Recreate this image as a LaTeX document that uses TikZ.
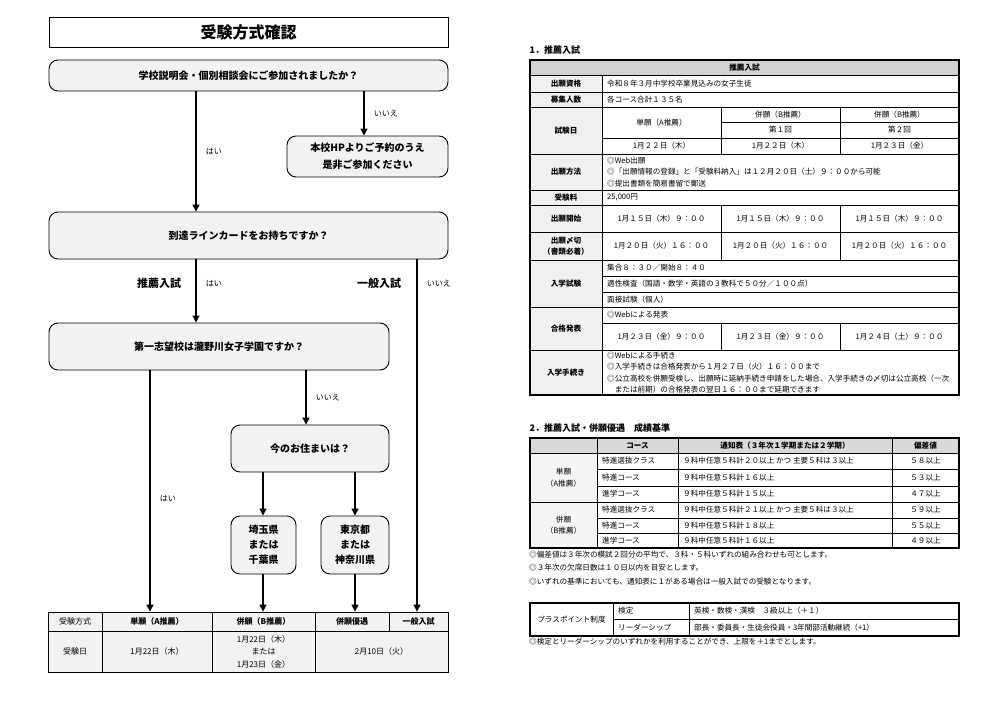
\documentclass[tikz,border=0pt]{standalone}
\usepackage{fontspec}
\setmainfont{Noto Sans CJK JP}
\usetikzlibrary{arrows.meta}

\tikzset{
  qbox/.style={draw, line width=0.9pt, rounded corners=9pt, fill=gray!10, inner sep=0pt,
    align=center, font=\bfseries\fontsize{10}{15}\selectfont},
  arr/.style={-{Triangle[length=7pt,width=7pt]}, line width=1.3pt},
  yesno/.style={font=\fontsize{8}{10}\selectfont},
  route/.style={font=\bfseries\fontsize{11}{13}\selectfont},
  cell/.style={draw, line width=0.8pt, fill=gray!10, inner sep=0pt, align=center,
    font=\fontsize{8}{12.5}\selectfont},
  tline/.style={line width=0.7pt},
  ttext/.style={font=\fontsize{7.6}{11.5}\selectfont, inner sep=0pt},
  thead/.style={font=\bfseries\fontsize{9}{11}\selectfont, anchor=west},
}
% table cell: [fill] x1 y1 x2 y2 text (centred / left)
\newcommand\tcell[6][white]{\filldraw[tline,fill=#1] (#2,#3) rectangle (#4,#5);
  \node[ttext,align=center] at ({(#2+#4)/2},{(#3+#5)/2}) {#6};}
\newcommand\lcell[6][white]{\filldraw[tline,fill=#1] (#2,#3) rectangle (#4,#5);
  \node[ttext,align=left,anchor=west] at ({#2+5},{(#3+#5)/2}) {#6};}

\begin{document}
\begin{tikzpicture}[x=1pt,y=-1pt]
    \useasboundingbox (0,0) rectangle (1000,706);

    % left page: flow chart
    \node[draw, line width=0.9pt, minimum width=399pt, minimum height=30pt,
      font=\bfseries\fontsize{16}{18}\selectfont] (title) at (248.5,32) {受験方式確認};

    \node[qbox, minimum width=399pt, minimum height=31pt] (q1) at (248.5,75.5)
      {学校説明会・個別相談会にご参加されましたか？};
    \node[qbox, minimum width=161pt, minimum height=41pt, font=\bfseries\fontsize{10}{17}\selectfont]
      (hp) at (367.5,156.5) {本校HPよりご予約のうえ\\是非ご参加ください};
    \node[qbox, minimum width=399pt, minimum height=47pt] (q2) at (248.5,235.5)
      {到達ラインカードをお持ちですか？};
    \node[qbox, minimum width=340pt, minimum height=47pt] (q3) at (219,346.5)
      {第一志望校は瀧野川女子学園ですか？};
    \node[qbox, minimum width=158pt, minimum height=47pt] (q4) at (310,448.5)
      {今のお住まいは？};
    \node[qbox, minimum width=65pt, minimum height=58pt] (saitama) at (263.5,545)
      {埼玉県\\または\\千葉県};
    \node[qbox, minimum width=68pt, minimum height=58pt] (tokyo) at (355,545)
      {東京都\\または\\神奈川県};

    % result table
    \node[cell, minimum width=54pt, minimum height=19pt] (hM) at (75,621.5) {受験方式};
    \node[cell, minimum width=110pt, minimum height=19pt, font=\bfseries\fontsize{8}{10}\selectfont]
      (hA) at (157,621.5) {単願（A推薦）};
    \node[cell, minimum width=103pt, minimum height=19pt, font=\bfseries\fontsize{8}{10}\selectfont]
      (hB) at (263.5,621.5) {併願（B推薦）};
    \node[cell, minimum width=74pt, minimum height=19pt, font=\bfseries\fontsize{8}{10}\selectfont]
      (hC) at (352,621.5) {併願優遇};
    \node[cell, minimum width=59pt, minimum height=19pt, font=\bfseries\fontsize{8}{10}\selectfont]
      (hD) at (418.5,621.5) {一般入試};
    \node[cell, minimum width=54pt, minimum height=41pt] (dM) at (75,651.5) {受験日};
    \node[cell, minimum width=110pt, minimum height=41pt] (dA) at (157,651.5) {1月22日（木）};
    \node[cell, minimum width=103pt, minimum height=41pt] (dB) at (263.5,651.5)
      {1月22日（木）\\または\\1月23日（金）};
    \node[cell, minimum width=133pt, minimum height=41pt] (dC) at (381.5,651.5) {2月10日（火）};

    % arrow columns
    \coordinate (xYes) at (196,0);
    \coordinate (xNo) at (364,0);
    \coordinate (xGen) at (417,0);
    \coordinate (xSingle) at (150,0);
    \coordinate (xLive) at (306,0);
    \coordinate (xSaitama) at (263,0);
    \coordinate (xTokyo) at (355,0);

    % flow arrows
    \draw[arr] (q1.south -| xYes) -- node[yesno, right=6pt] {はい} (q2.north -| xYes);
    \draw[arr] (q1.south -| xNo) -- node[yesno, right=6pt] {いいえ} (hp.north -| xNo);
    \draw[arr] (q2.south -| xYes) -- node[pos=0.38, yesno, right=6pt] {はい}
      node[pos=0.38, route, left=11pt] {推薦入試} (q3.north -| xYes);
    \draw[arr] (q2.south -| xGen) -- node[pos=0.068, yesno, right=6pt] {いいえ}
      node[pos=0.068, route, left=12pt] {一般入試} (hD.north -| xGen);
    \draw[arr] (q3.south -| xSingle) -- node[pos=0.53, yesno, right=6pt] {はい} (hA.north -| xSingle);
    \draw[arr] (q3.south -| xLive) -- node[yesno, right=6pt] {いいえ} (q4.north -| xLive);
    \draw[arr] (q4.south -| xSaitama) -- (saitama.north -| xSaitama);
    \draw[arr] (q4.south -| xTokyo) -- (tokyo.north -| xTokyo);
    \draw[arr] (saitama.south -| xSaitama) -- (hB.north -| xSaitama);
    \draw[arr] (tokyo.south -| xTokyo) -- (hC.north -| xTokyo);

    % right page: 1. recommendation exam
    \node[thead] (sec1) at (526,50) {1．推薦入試};
    \tcell[gray!35]{530}{60}{959}{75}{\bfseries 推薦入試}
    \tcell[gray!12]{530}{75}{602}{92}{\bfseries 出願資格}
    \lcell{602}{75}{959}{92}{令和８年３月中学校卒業見込みの女子生徒}
    \tcell[gray!12]{530}{92}{602}{107}{\bfseries 募集人数}
    \lcell{602}{92}{959}{107}{各コース合計１３５名}
    \tcell[gray!12]{530}{107}{602}{154}{\bfseries 試験日}
    \tcell{602}{107}{721}{138}{単願（A推薦）}
    \tcell{602}{138}{721}{154}{1月２２日（木）}
    \tcell{721}{107}{840}{122}{併願（B推薦）}
    \tcell{721}{122}{840}{138}{第１回}
    \tcell{721}{138}{840}{154}{1月２２日（木）}
    \tcell{840}{107}{959}{122}{併願（B推薦）}
    \tcell{840}{122}{959}{138}{第２回}
    \tcell{840}{138}{959}{154}{1月２３日（金）}
    \tcell[gray!12]{530}{154}{602}{190}{\bfseries 出願方法}
    \lcell{602}{154}{959}{190}{◎Web出願\\◎「出願情報の登録」と「受験料納入」は１２月２０日（土）９：００から可能\\◎提出書類を簡易書留で郵送}
    \tcell[gray!12]{530}{190}{602}{205}{\bfseries 受験料}
    \lcell{602}{190}{959}{205}{25,000円}
    \tcell[gray!12]{530}{205}{602}{232}{\bfseries 出願開始}
    \tcell{602}{205}{721}{232}{1月１５日（木）９：００}
    \tcell{721}{205}{840}{232}{1月１５日（木）９：００}
    \tcell{840}{205}{959}{232}{1月１５日（木）９：００}
    \tcell[gray!12]{530}{232}{602}{260}{\bfseries 出願〆切\\\bfseries （書類必着）}
    \tcell{602}{232}{721}{260}{1月２０日（火）１６：００}
    \tcell{721}{232}{840}{260}{1月２０日（火）１６：００}
    \tcell{840}{232}{959}{260}{1月２０日（火）１６：００}
    \tcell[gray!12]{530}{260}{602}{307}{\bfseries 入学試験}
    \lcell{602}{260}{959}{276}{集合８：３０／開始８：４０}
    \lcell{602}{276}{959}{292}{適性検査（国語・数学・英語の３教科で５０分／１００点）}
    \lcell{602}{292}{959}{307}{面接試験（個人）}
    \tcell[gray!12]{530}{307}{602}{350}{\bfseries 合格発表}
    \lcell{602}{307}{959}{323}{◎Webによる発表}
    \tcell{602}{323}{721}{350}{1月２３日（金）９：００}
    \tcell{721}{323}{840}{350}{1月２３日（金）９：００}
    \tcell{840}{323}{959}{350}{1月２４日（土）９：００}
    \tcell[gray!12]{530}{350}{602}{395}{\bfseries 入学手続き}
    \lcell{602}{350}{959}{395}{◎Webによる手続き\\◎入学手続きは合格発表から１月２７日（火）１６：００まで\\◎公立高校を併願受検し、出願時に延納手続き申請をした場合、入学手続きの〆切は公立高校（一次\\　または前期）の合格発表の翌日１６：００まで延期できます}
    \draw[line width=1.5pt] (530,60) rectangle (959,395);

    % 2. criteria
    \node[thead] (sec2) at (526,428) {2．推薦入試・併願優遇　成績基準};
    \tcell[gray!30]{530}{438}{597}{453}{}
    \tcell[gray!30]{597}{438}{678}{453}{\bfseries コース}
    \tcell[gray!30]{678}{438}{892}{453}{\bfseries 通知表（３年次１学期または２学期）}
    \tcell[gray!30]{892}{438}{959}{453}{\bfseries 偏差値}
    \tcell[gray!8]{530}{453}{597}{502}{単願\\（A推薦）}
    \tcell[gray!8]{530}{502}{597}{548}{併願\\（B推薦）}
    \lcell{597}{453}{678}{469}{特進選抜クラス}
    \lcell{678}{453}{892}{469}{９科中任意５科計２０以上 かつ 主要５科は３以上}
    \tcell{892}{453}{959}{469}{５８以上}
    \lcell{597}{469}{678}{486}{特進コース}
    \lcell{678}{469}{892}{486}{９科中任意５科計１６以上}
    \tcell{892}{469}{959}{486}{５３以上}
    \lcell{597}{486}{678}{502}{進学コース}
    \lcell{678}{486}{892}{502}{９科中任意５科計１５以上}
    \tcell{892}{486}{959}{502}{４７以上}
    \lcell{597}{502}{678}{518}{特進選抜クラス}
    \lcell{678}{502}{892}{518}{９科中任意５科計２１以上 かつ 主要５科は３以上}
    \tcell{892}{502}{959}{518}{５９以上}
    \lcell{597}{518}{678}{533}{特進コース}
    \lcell{678}{518}{892}{533}{９科中任意５科計１８以上}
    \tcell{892}{518}{959}{533}{５５以上}
    \lcell{597}{533}{678}{548}{進学コース}
    \lcell{678}{533}{892}{548}{９科中任意５科計１６以上}
    \tcell{892}{533}{959}{548}{４９以上}
    \draw[line width=1.5pt] (530,438) rectangle (959,548);

    % notes
    \node[ttext, anchor=west] (n1) at (529,555) {◎偏差値は３年次の模試２回分の平均で、３科・５科いずれの組み合わせも可とします。};
    \node[ttext, anchor=west] (n2) at (529,568) {◎３年次の欠席日数は１０日以内を目安とします。};
    \node[ttext, anchor=west] (n3) at (529,582) {◎いずれの基準においても、通知表に１がある場合は一般入試での受験となります。};

    % plus points
    \tcell{530}{603}{613}{636}{プラスポイント制度}
    \lcell{613}{603}{689}{619}{検定}
    \lcell{689}{603}{959}{619}{英検・数検・漢検　３級以上（＋１）}
    \lcell{613}{619}{689}{636}{リーダーシップ}
    \lcell{689}{619}{959}{636}{部長・委員長・生徒会役員・3年間部活動継続（+1）}
    \draw[line width=1.5pt] (530,603) rectangle (959,636);
    \node[ttext, anchor=west] (n4) at (529,642) {◎検定とリーダーシップのいずれかを利用することができ、上限を＋1までとします。};
\end{tikzpicture}
\end{document}
